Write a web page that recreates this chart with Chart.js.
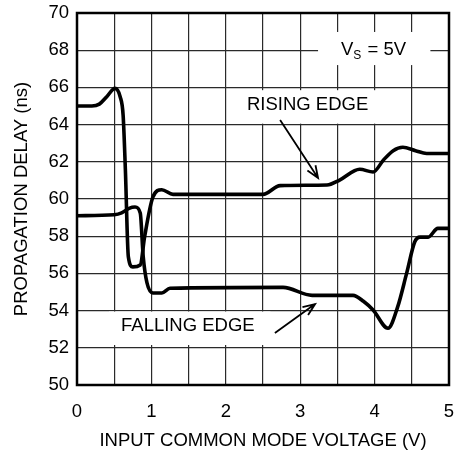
<!DOCTYPE html>
<html>
<head>
<meta charset="utf-8">
<script src="https://cdn.jsdelivr.net/npm/chart.js@4/dist/chart.umd.min.js"></script>
<style>
  html, body { margin: 0; padding: 0; background: #fff; }
  canvas { display: block; }
</style>
</head>
<body>
<canvas id="delayChart" width="456" height="460"></canvas>
<script>
// rising edge (starts at 65 ns)
const risingX = [0, 0.2, 0.3, 0.4, 0.51, 0.58, 0.62, 0.65, 0.69, 0.75, 0.85, 0.91, 1.02, 1.14, 1.29, 2.5, 2.73, 3.36, 3.53, 3.8, 3.98, 4.12, 4.25, 4.38, 4.55, 4.7, 5.0];
const risingY = [65.0, 65.0, 65.1, 65.5, 65.95, 65.5, 64.5, 61.6, 56.9, 56.35, 56.45, 58.0, 60.1, 60.5, 60.25, 60.25, 60.72, 60.75, 61.02, 61.6, 61.45, 62.1, 62.6, 62.78, 62.6, 62.45, 62.45];

// falling edge (starts at 59 ns)
const fallingX = [0, 0.5, 0.6, 0.7, 0.78, 0.85, 0.89, 0.94, 1.02, 1.14, 1.25, 2.77, 3.16, 3.71, 3.85, 3.98, 4.18, 4.31, 4.43, 4.54, 4.61, 4.72, 4.85, 5.0];
const fallingY = [59.1, 59.15, 59.25, 59.5, 59.57, 59.25, 56.9, 55.5, 54.95, 54.95, 55.2, 55.25, 54.82, 54.82, 54.5, 54.03, 53.05, 54.2, 56.0, 57.7, 57.95, 57.95, 58.42, 58.42];

const xTicks = [0, 1, 2, 3, 4, 5];
const yTicks = [50, 52, 54, 56, 58, 60, 62, 64, 66, 68, 70];

const FONT = "'Liberation Sans', Arial, Helvetica, sans-serif";

function toPoints(xs, ys) {
  return xs.map((x, i) => ({ x: x, y: ys[i] }));
}

// kill the label overhang padding so the plot box lands where we want
function noPad(s) {
  s.paddingLeft = 0;
  s.paddingRight = 0;
  s.paddingTop = 0;
  s.paddingBottom = 0;
}

// annotations, frame and Vs box
const extras = {
  id: 'extras',
  afterDraw(chart) {
    const ctx = chart.ctx;
    const xs = chart.scales.x, ys = chart.scales.y;
    const area = chart.chartArea;
    const px = v => xs.getPixelForValue(v);
    const py = v => ys.getPixelForValue(v);

    ctx.save();
    // white patches behind the labels (grid is broken there)
    ctx.fillStyle = '#fff';
    ctx.fillRect(px(3.24), py(68.98), px(4.75) - px(3.24), py(67.2) - py(68.98));
    ctx.fillRect(px(2.1), py(65.85), px(4.1) - px(2.1), py(64.05) - py(65.85));
    ctx.fillRect(px(0.43), py(53.95), px(2.6) - px(0.43), py(52.15) - py(53.95));

    ctx.fillStyle = '#000';
    ctx.font = '18.5px ' + FONT;
    ctx.textBaseline = 'middle';
    ctx.textAlign = 'left';
    const ty = 50;
    let tx = 341;
    ctx.fillText('V', tx, ty);
    tx += ctx.measureText('V').width;
    ctx.font = '12px ' + FONT;
    ctx.fillText('S', tx, ty + 6);
    tx += ctx.measureText('S').width + 1;
    ctx.font = '18.5px ' + FONT;
    ctx.fillText(' = 5V', tx, ty);

    // labels
    ctx.textAlign = 'center';
    ctx.fillText('RISING EDGE', px(3.1), py(65.05));
    ctx.fillText('FALLING EDGE', px(1.49), py(53.17));

    // arrows
    function arrow(x1, y1, x2, y2) {
      const a = Math.atan2(y2 - y1, x2 - x1);
      const len = 13, spread = 0.38;
      ctx.beginPath();
      ctx.moveTo(x1, y1);
      ctx.lineTo(x2, y2);
      ctx.moveTo(x2 - len * Math.cos(a - spread), y2 - len * Math.sin(a - spread));
      ctx.lineTo(x2, y2);
      ctx.lineTo(x2 - len * Math.cos(a + spread), y2 - len * Math.sin(a + spread));
      ctx.stroke();
    }
    ctx.strokeStyle = '#000';
    ctx.lineWidth = 1.8;
    arrow(px(2.73), py(64.25), px(3.24), py(61.13));
    arrow(px(2.66), py(52.8), px(3.2), py(54.35));

    // frame
    ctx.lineWidth = 2.5;
    ctx.strokeRect(area.left, area.top, area.right - area.left, area.bottom - area.top);
    ctx.restore();
  }
};

const ctx = document.getElementById('delayChart').getContext('2d');
new Chart(ctx, {
  type: 'line',
  data: {
    datasets: [
      {
        label: 'Rising Edge',
        data: toPoints(risingX, risingY),
        borderColor: '#000',
        borderWidth: 3.6,
        pointRadius: 0,
        cubicInterpolationMode: 'monotone',
        fill: false
      },
      {
        label: 'Falling Edge',
        data: toPoints(fallingX, fallingY),
        borderColor: '#000',
        borderWidth: 3.6,
        pointRadius: 0,
        cubicInterpolationMode: 'monotone',
        fill: false
      }
    ]
  },
  options: {
    responsive: false,
    animation: false,
    layout: { padding: { left: 0, right: 7, top: 13, bottom: 0 } },
    plugins: {
      legend: { display: false },
      tooltip: { enabled: false }
    },
    scales: {
      x: {
        type: 'linear',
        min: 0,
        max: 5,
        ticks: {
          stepSize: 0.5,
          padding: 16,
          color: '#000',
          font: { family: FONT, size: 18.5 },
          maxRotation: 0,
          callback: v => xTicks.includes(v) ? String(v) : ''
        },
        grid: { color: '#2a2a2a', lineWidth: 1.2, drawTicks: false },
        border: { display: false },
        title: {
          display: true,
          text: 'INPUT COMMON MODE VOLTAGE (V)',
          color: '#000',
          font: { family: FONT, size: 18.5 },
          padding: { top: 0, bottom: 8 }
        },
        afterFit: s => { s.height = 75; noPad(s); }
      },
      y: {
        min: 50,
        max: 70,
        ticks: {
          stepSize: 2,
          padding: 8,
          color: '#000',
          font: { family: FONT, size: 18.5 },
          callback: v => yTicks.includes(v) ? String(v) : ''
        },
        grid: { color: '#2a2a2a', lineWidth: 1.2, drawTicks: false },
        border: { display: false },
        title: {
          display: true,
          text: 'PROPAGATION DELAY (ns)',
          color: '#000',
          font: { family: FONT, size: 18.5 },
          padding: { top: 11, bottom: 0 }
        },
        afterFit: s => { s.width = 77; noPad(s); }
      }
    }
  },
  plugins: [extras]
});
</script>
</body>
</html>
